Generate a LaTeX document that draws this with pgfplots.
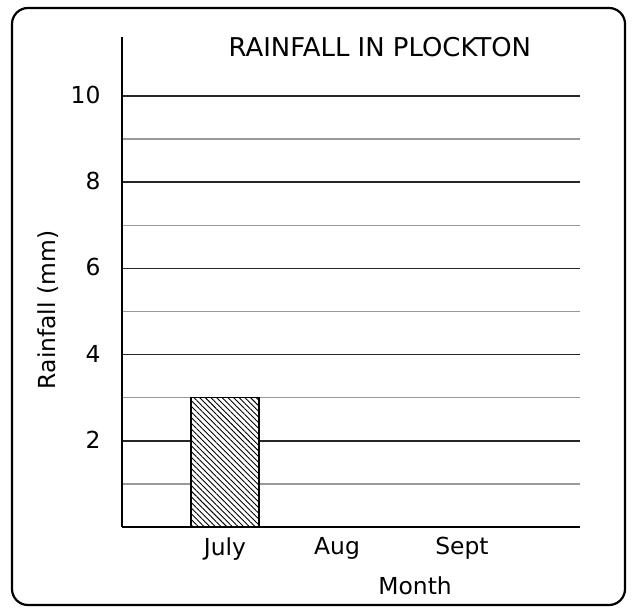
\documentclass[border=0pt]{standalone}
\usepackage{fontspec}
\setmainfont{DejaVu Sans}
\usepackage{pgfplots}
\pgfplotsset{compat=1.18}
\usetikzlibrary{patterns.meta}
\begin{document}
\begin{tikzpicture}[x=1bp,y=1bp]
\useasboundingbox (0,0) rectangle (633,611);
\draw[line width=2.2bp, rounded corners=16bp] (12,6) rectangle (625,603);
\begin{axis}[
  at={(122bp,84bp)}, anchor=south west,
  scale only axis, width=458bp, height=490bp,
  xmin=0, xmax=458, ymin=0, ymax=11.37,
  axis lines=left,
  axis line style={-, line width=1.9bp, black},
  xtick={103,215,340}, xticklabels={July,Aug,Sept},
  ytick={2,4,6,8,10},
  minor ytick={1,3,5,7,9},
  ymajorgrids, yminorgrids,
  major grid style={black!85, line width=1.5bp},
  minor grid style={black!40, line width=1.3bp},
  major tick length=0pt, minor tick length=0pt,
  tick label style={font=\fontsize{23.5}{26}\selectfont},
  /pgf/number format/assume math mode=true,
  yticklabel style={xshift=-18bp, yshift=1bp},
  xticklabel style={yshift=-7bp},
  ylabel={Rainfall (mm)},
  ylabel style={at={(rel axis cs:-0.162,0.443)}, anchor=center, rotate=0, font=\fontsize{23.5}{26}\selectfont},
  xlabel={Month},
  xlabel style={at={(rel axis cs:0.64,-0.12)}, anchor=center, font=\fontsize{23.5}{26}\selectfont},
  title={RAINFALL IN PLOCKTON},
  title style={at={(rel axis cs:0.563,0.968)}, anchor=center, font=\fontsize{26}{29}\selectfont},
  bar width=68,
]
\addplot[ybar, draw=black, line width=1.4bp, fill=white,
  postaction={pattern={Lines[angle=-45, distance=4bp, line width=0.9bp]}}]
  coordinates {(103,3)};
\end{axis}
\end{tikzpicture}
\end{document}
